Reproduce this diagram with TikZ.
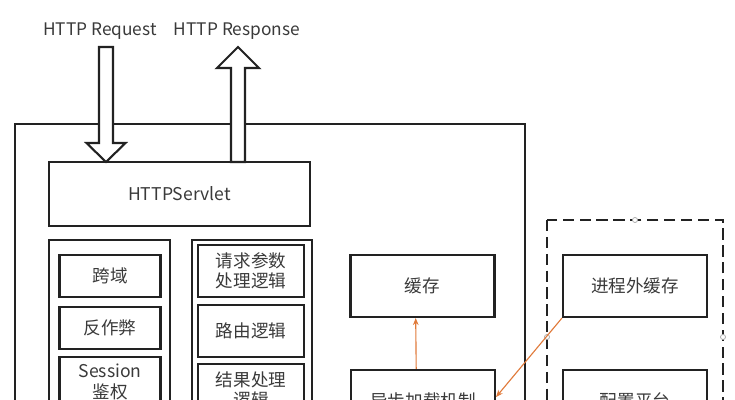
\documentclass[tikz,border=0pt]{standalone}
\usepackage{fontspec}
\setmainfont{Noto Sans CJK SC}
\usetikzlibrary{arrows.meta,calc}

\definecolor{linegray}{HTML}{222222}
\definecolor{textgray}{HTML}{3A3A3A}
\definecolor{flowcolor}{HTML}{E07A3A}

\tikzset{
  frame/.style={draw=linegray, line width=1.5pt},
  dashframe/.style={draw=linegray, line width=1.5pt, dash pattern=on 8pt off 4pt},
  box/.style={draw=linegray, line width=1.5pt, text=textgray, align=center,
    inner sep=0pt, font=\fontsize{12.5}{14.5}\selectfont},
  smallbox/.style={box, minimum width=2.525cm, minimum height=1.05cm},
  midbox/.style={box, minimum width=2.65cm, minimum height=1.3cm},
  bigbox/.style={box, minimum width=3.6cm, minimum height=1.55cm},
  toplabel/.style={text=textgray, font=\fontsize{12.3}{14}\selectfont},
  blockarrow/.style={draw=linegray, line width=1.5pt, fill=white, line join=miter},
  flow/.style={draw=flowcolor, line width=0.8pt, -{Stealth[length=5pt,width=4pt]}},
  handle/.style={draw=gray!70, fill=white, line width=0.5pt}
}

\begin{document}
\begin{tikzpicture}[x=0.025cm, y=-0.025cm]
  \useasboundingbox (0,0) rectangle (735,400);
  \clip (0,0) rectangle (735,400);

  % request / response labels
  \node[toplabel] (req) at (100,31) {HTTP Request};
  \node[toplabel] (resp) at (237,31) {HTTP Response};

  % gateway frame
  \draw[frame] (15,124) rectangle (525,480);
  \node[box, minimum width=6.525cm, minimum height=1.6cm] (servlet) at (179.5,194) {HTTPServlet};

  % filters
  \draw[frame] (49,240) rectangle (170,480);
  \node[smallbox] (cors) at (110,276) {跨域};
  \node[smallbox] (fraud) at (110,328) {反作弊};
  \node[smallbox, minimum height=1.25cm] (session) at (110,382) {Session\\鉴权};

  % handlers
  \draw[frame] (192,240) rectangle (312,480);
  \node[midbox] (params) at (251,271) {请求参数\\处理逻辑};
  \node[midbox] (route) at (251,331) {路由逻辑};
  \node[midbox] (result) at (251,390) {结果处理\\逻辑};

  % cache
  \node[bigbox] (cache) at (422.5,286) {缓存};
  \node[bigbox] (async) at (423,401) {异步加载机制};

  % outside the process
  \draw[dashframe] (547,220) rectangle (723,454);
  \node[bigbox] (outcache) at (635,286) {进程外缓存};
  \node[bigbox] (config) at (635,401) {配置平台};
  \draw[handle] (635,220) circle (1.8pt);
  \draw[handle] (547,337) circle (1.8pt);
  \draw[handle] (723,337) circle (1.8pt);

  % block arrows in and out
  \coordinate (reqtip) at (106,162);
  \draw[blockarrow] (reqtip) -- ++(19.5,-19) -- ++(-12.5,0) -- ++(0,-96)
    -- ++(-14,0) -- ++(0,96) -- ++(-12.5,0) -- cycle;
  \coordinate (resptip) at (238,47);
  \draw[blockarrow] (resptip) -- ++(21,21) -- ++(-14,0) -- ++(0,94)
    -- ++(-14,0) -- ++(0,-94) -- ++(-14,0) -- cycle;

  % loading
  \draw[flow] ([xshift=-0.17cm]async.north) -- ([xshift=-0.17cm]cache.south);
  \draw[flow] (outcache.south west) -- ([yshift=0.1cm]async.east);
\end{tikzpicture}
\end{document}
